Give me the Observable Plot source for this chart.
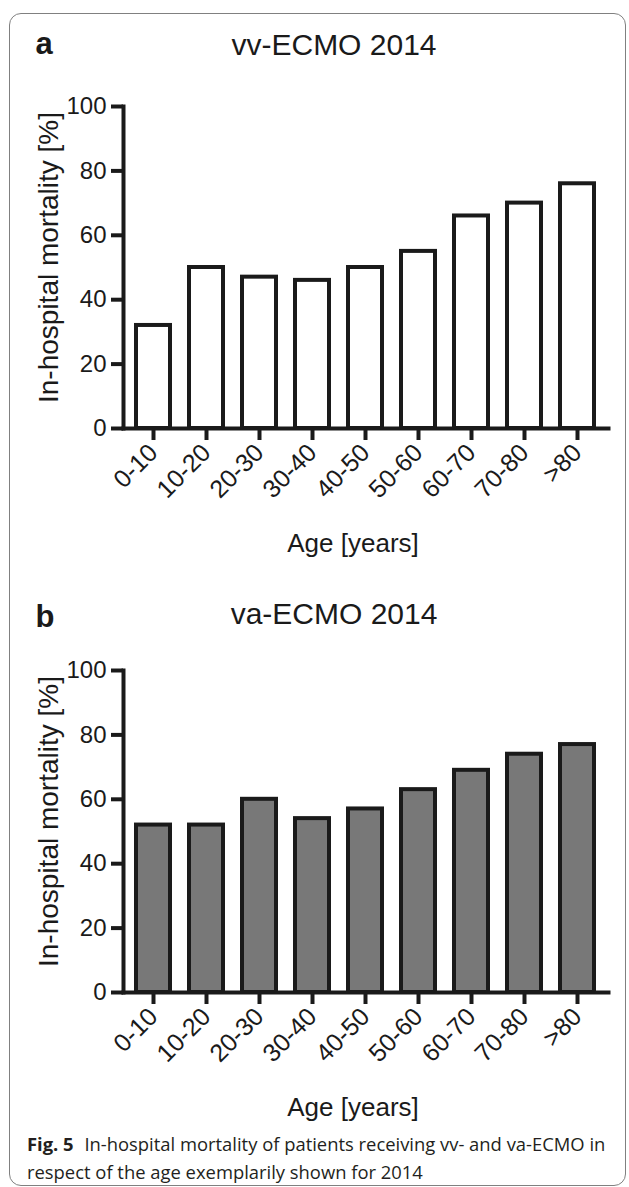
<!DOCTYPE html>
<html>
<head>
<meta charset="utf-8">
<script src="https://cdn.jsdelivr.net/npm/d3@7"></script>
<script src="https://cdn.jsdelivr.net/npm/@observablehq/plot@0.6"></script>
<style>
  html, body { margin: 0; padding: 0; background: #fff; }
  #page { position: relative; width: 629px; height: 1187px; overflow: hidden; background: #fff; }
  #frame { position: absolute; left: 9px; top: 13px; width: 617px; height: 1173px; border: 1px solid #808080; border-radius: 12px; box-sizing: border-box; }
  .panel { position: absolute; left: 0; }
  #caption { position: absolute; left: 27px; top: 1130px; width: 600px; font-family: "Open Sans", sans-serif; font-size: 18.4px; line-height: 28px; color: #231f20; white-space: nowrap; }
  #caption b { font-weight: 700; margin-right: 6px; }
</style>
</head>
<body>
<div id="page">
  <div id="frame"></div>
  <div id="panelA" class="panel" style="top:0px"></div>
  <div id="panelB" class="panel" style="top:570px"></div>
  <div id="caption"><b>Fig. 5</b> In-hospital mortality of patients receiving vv- and va-ECMO in<br>respect of the age exemplarily shown for 2014</div>
</div>
<script>
// ---- data ----
const ages = ["0-10", "10-20", "20-30", "30-40", "40-50", "50-60", "60-70", "70-80", ">80"];
const vvMortality = [32, 50, 47, 46, 50, 55, 66, 70, 76];
const vaMortality = [52, 52, 60, 54, 57, 63, 69, 74, 77];
const yTicks = [0, 20, 40, 60, 80, 100];
const panelLetters = ["a", "b"];
const panelTitles = ["vv-ECMO 2014", "va-ECMO 2014"];
const xLabel = "Age [years]";
const yLabel = "In-hospital mortality [%]";

const ink = "#1a1a1a";
const font = "'Liberation Sans', Arial, Helvetica, sans-serif";

function panel(values, fill, letter, title, marginTop, height, titleDy, letterDy) {
  const data = ages.map((a, i) => ({age: a, value: values[i]}));
  return Plot.plot({
    width: 629,
    height: height,
    marginLeft: 123,
    marginRight: 21,
    marginTop: marginTop,
    marginBottom: height - marginTop - 322,
    style: {fontFamily: font, color: ink, background: "transparent", overflow: "visible"},
    x: {domain: ages, paddingInner: 0.35, paddingOuter: 0.2, axis: null},
    y: {domain: [0, 100], axis: null},
    marks: [
      Plot.barY(data, {x: "age", y: "value", fill: fill, stroke: ink, strokeWidth: 4}),
      Plot.frame({anchor: "left", stroke: ink, strokeWidth: 4}),
      Plot.frame({anchor: "bottom", stroke: ink, strokeWidth: 4}),
      Plot.axisY({ticks: yTicks, tickSize: 12, tickPadding: 5, strokeWidth: 4, stroke: ink, fontSize: 24, fill: ink, label: null}),
      Plot.axisX({tickSize: 12, tickPadding: 8, strokeWidth: 4, stroke: ink, fontSize: 25, fill: ink, tickRotate: -45, label: null}),
      Plot.text([yLabel], {frameAnchor: "left", textAnchor: "middle", lineAnchor: "middle", dx: -74, dy: -10, rotate: -90, fontSize: 28, fill: ink}),
      Plot.text([xLabel], {frameAnchor: "bottom", textAnchor: "middle", lineAnchor: "middle", dx: -13, dy: 115, fontSize: 26, fill: ink}),
      Plot.text([title], {frameAnchor: "top", textAnchor: "middle", dx: -32, dy: titleDy, lineAnchor: "top", fontSize: 30, fill: ink}),
      Plot.text([letter], {frameAnchor: "top-left", dx: -88, dy: letterDy, lineAnchor: "top", textAnchor: "start", fontSize: 31, fontWeight: "bold", fill: ink})
    ]
  });
}

document.getElementById("panelA").append(panel(vvMortality, "#ffffff", panelLetters[0], panelTitles[0], 106, 580, -73, -75));
document.getElementById("panelB").append(panel(vaMortality, "#787878", panelLetters[1], panelTitles[1], 100, 560, -68, -66));
</script>
</body>
</html>
